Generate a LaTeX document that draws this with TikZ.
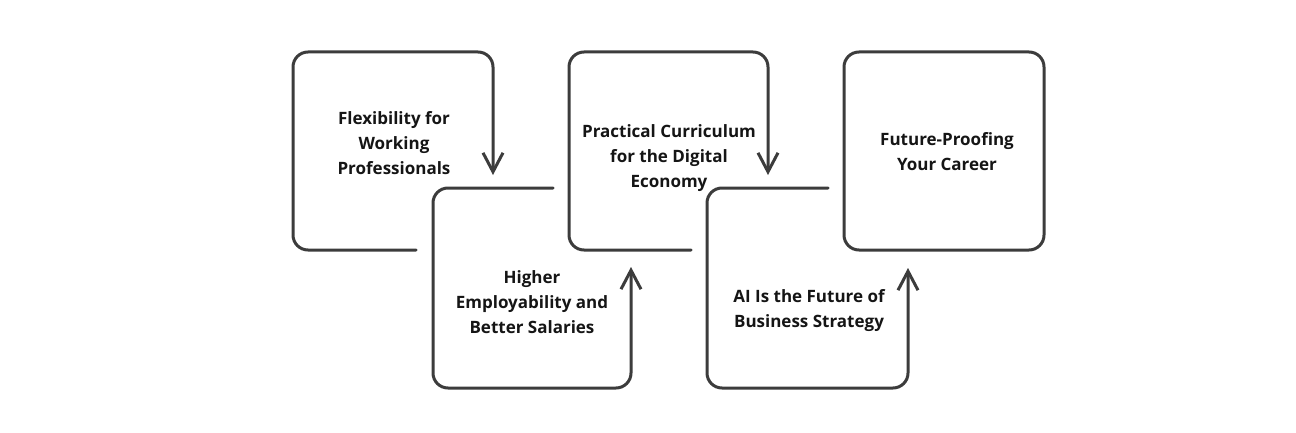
\documentclass[tikz,border=0pt]{standalone}
\usepackage{fontspec}
\setmainfont{Open Sans}
\usetikzlibrary{arrows.meta}
\definecolor{linegray}{HTML}{3C3C3C}
\definecolor{txt}{HTML}{151515}
\tikzset{
  flow/.style={draw=linegray, line width=3pt, rounded corners=15pt, line cap=round},
  tip/.style={-{Straight Barb[length=19pt,width=20pt,line width=3pt]}},
  lbl/.style={align=center, font=\fontsize{17}{25}\selectfont\bfseries, text=txt, inner sep=0pt}
}
\begin{document}
\begin{tikzpicture}[x=1pt,y=-1pt]
\useasboundingbox[fill=white] (0,0) rectangle (1296,433);
% corner coordinates
\coordinate (a0) at (416,250);
\coordinate (a1) at (293,250);
\coordinate (a2) at (293,52);
\coordinate (a3) at (493,52);
\coordinate (a4) at (493,175);
\coordinate (b0) at (553,188);
\coordinate (b1) at (433,188);
\coordinate (b2) at (433,388);
\coordinate (b3) at (631,388);
\coordinate (b4) at (631,267);
\coordinate (c0) at (691,250);
\coordinate (c1) at (569,250);
\coordinate (c2) at (569,52);
\coordinate (c3) at (768,52);
\coordinate (c4) at (768,175);
\coordinate (d0) at (828,188);
\coordinate (d1) at (707,188);
\coordinate (d2) at (707,388);
\coordinate (d3) at (908,388);
\coordinate (d4) at (908,268);
\coordinate (e1) at (844,52);
\coordinate (e2) at (1044,250);

\draw[flow,tip] (a0) -- (a1) -- (a2) -- (a3) -- (a4);
\draw[flow,tip] (b0) -- (b1) -- (b2) -- (b3) -- (b4);
\draw[flow,tip] (c0) -- (c1) -- (c2) -- (c3) -- (c4);
\draw[flow,tip] (d0) -- (d1) -- (d2) -- (d3) -- (d4);
\draw[flow] (e1) rectangle (e2);

\node[lbl] (t1) at (394,143) {Flexibility for\\Working\\Professionals};
\node[lbl] (t2) at (532,302) {Higher\\Employability and\\Better Salaries};
\node[lbl] (t3) at (669,158) {Practical Curriculum\\for the Digital\\Economy};
\node[lbl] (t4) at (809,311) {AI Is the Future of\\Business Strategy};
\node[lbl] (t5) at (947,152) {Future-Proofing\\Your Career};
\end{tikzpicture}
\end{document}
